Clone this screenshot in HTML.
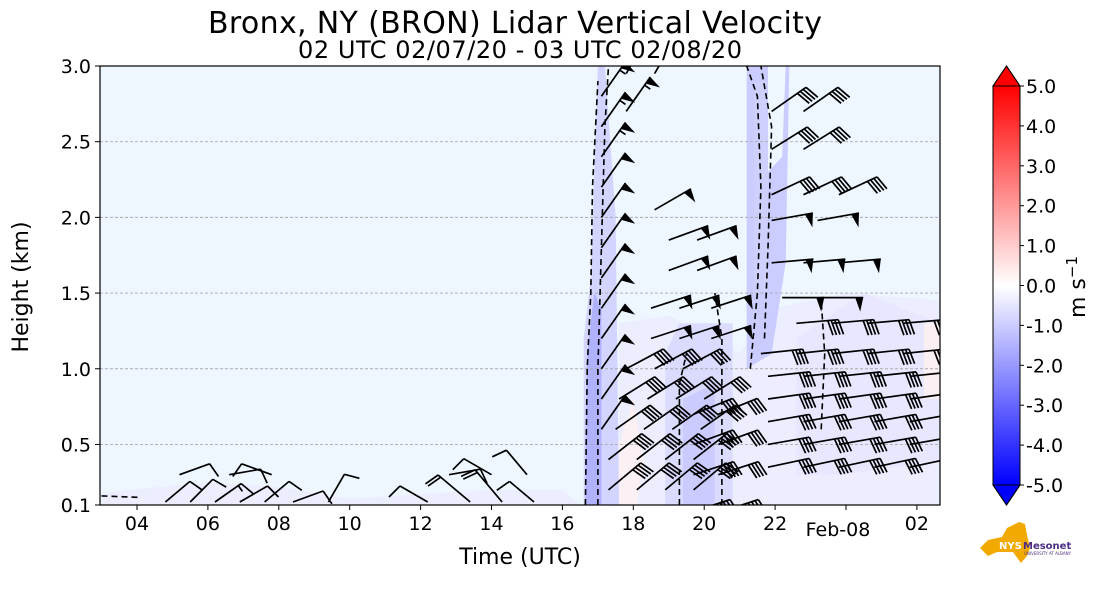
<!DOCTYPE html>
<html><head><meta charset="utf-8">
<style>
body{margin:0;background:#fff;}
svg{display:block;font-family:"DejaVu Sans","Liberation Sans",sans-serif;}
</style></head>
<body>
<svg id="chart" width="1101" height="600" viewBox="0 0 1101 600">
<defs>
<linearGradient id="bwr" x1="0" y1="1" x2="0" y2="0">
<stop offset="0" stop-color="#0000ff"/><stop offset="0.5" stop-color="#ffffff"/><stop offset="1" stop-color="#ff0000"/>
</linearGradient>
<clipPath id="plotclip"><rect x="100" y="66" width="840" height="439"/></clipPath>
</defs>
<text x="515" y="33" font-size="30" text-anchor="middle" textLength="614">Bronx, NY (BRON) Lidar Vertical Velocity</text>
<text x="520" y="58" font-size="24" text-anchor="middle" textLength="444">02 UTC 02/07/20 - 03 UTC 02/08/20</text>
<rect x="100" y="66" width="840" height="439" fill="#eef6ff"/>
<g id="patches" clip-path="url(#plotclip)"></g>
<g id="grid"></g>
<g id="contours" clip-path="url(#plotclip)"></g>
<g id="barbs" clip-path="url(#plotclip)"></g>
<rect x="100" y="66" width="840" height="439" fill="none" stroke="#000" stroke-width="1.2"/>
<g id="axes"></g>
<text x="520" y="564" font-size="22" text-anchor="middle">Time (UTC)</text>
<text x="28" y="287" font-size="22" text-anchor="middle" transform="rotate(-90 28 287)">Height (km)</text>
<g id="cbar">
<rect x="993" y="86" width="27" height="399" fill="url(#bwr)"/>
<polygon points="993,86 1006.5,66 1020,86" fill="#ff0000" stroke="#000" stroke-width="1"/>
<polygon points="993,485 1006.5,505 1020,485" fill="#0000ff" stroke="#000" stroke-width="1"/>
<polygon points="993,86 1006.5,66 1020,86 1020,485 1006.5,505 993,485" fill="none" stroke="#000" stroke-width="1"/>
</g>
<text x="1085" y="287" font-size="22" text-anchor="middle" transform="rotate(-90 1085 287)">m s<tspan dy="-8" font-size="15">−1</tspan></text>
<g>
<polygon points="980,548 988,540 1002,537 1007,528 1019,522 1025,524 1027,535 1030,548 1027,556 1021,563 1013,552 997,552 988,556" fill="#f2a900"/>
<text x="999" y="549" font-size="10" font-weight="bold" fill="#fff">NYS</text>
<text x="1023" y="549" font-size="10" font-weight="bold" fill="#4b2e83">Mesonet</text>
<text x="1024" y="555" font-size="4" fill="#4b2e83">UNIVERSITY AT ALBANY</text>
</g>
</svg>
<script>
// ---------- data ----------
var yTicks=[0.1,0.5,1.0,1.5,2.0,2.5,3.0];
var yTickLabels=["0.1","0.5","1.0","1.5","2.0","2.5","3.0"];
var gridLevels=[0.5,1.0,1.5,2.0,2.5];
var xTicks=[4,6,8,10,12,14,16,18,20,22,24,26];
var xTickLabels=["04","06","08","10","12","14","16","18","20","22","Feb-08","02"];
var cbarTicks=[5,4,3,2,1,0,-1,-2,-3,-4,-5];
var cbarLabels=["5.0","4.0","3.0","2.0","1.0","0.0","-1.0","-2.0","-3.0","-4.0","-5.0"];
// velocity patches: [t (hours from 00 UTC 02/07), km] vertices with velocity value
var patchVals=[-0.4,-0.4,-1.0,-1.7,-0.8,-1.1,-1.2,-0.5,-0.9,0.3,0.3];
var patchPolys=[
 [[3,0.1],[3,0.18],[6,0.25],[8,0.22],[10,0.14],[14,0.2],[16,0.2],[16.5,0.1]],
 [[17.6,0.1],[17.6,1.3],[19,1.35],[21,1.1],[22,1.4],[24,1.5],[26.65,1.45],[26.65,0.1]],
 [[16.6,0.1],[16.6,1.2],[16.8,1.6],[16.9,2.3],[17.0,3.0],[17.2,3.0],[17.5,2.0],[17.6,0.1]],
 [[16.65,0.1],[16.7,1.1],[16.9,1.5],[17.1,1.4],[17.1,0.1]],
 [[18.9,0.1],[18.9,1.1],[19.3,1.3],[20.8,1.3],[20.8,0.1]],
 [[19.4,0.1],[19.4,0.8],[20.3,0.9],[20.3,0.1]],
 [[21.2,1.0],[21.2,3.0],[21.8,3.0],[21.8,2.3],[22.2,2.4],[22.3,3.0],[22.4,3.0],[22.3,1.7],[21.9,1.1]],
 [[22.6,0.3],[22.6,1.2],[24.5,1.5],[26.65,1.3],[26.65,0.4],[24,0.3]],
 [[21.4,1.5],[21.4,2.9],[21.8,2.9],[21.8,1.5]],
 [[17.6,0.1],[17.6,0.5],[18,0.8],[18.3,0.4],[18.1,0.1]],
 [[26.2,0.8],[26.2,1.3],[26.65,1.3],[26.65,0.8]]
];
var contourLines=[
 [[16.65,0.1],[16.7,1.0],[16.8,1.5],[16.85,2.2],[17.0,2.9]],
 [[17.0,0.1],[17.0,1.0],[17.1,1.8],[17.2,2.6],[17.3,3.0]],
 [[19.3,0.1],[19.3,0.9],[19.5,1.1]],
 [[20.5,0.1],[20.5,1.2],[20.3,1.5]],
 [[21.3,1.0],[21.5,1.5],[21.6,2.2],[21.5,2.8],[21.2,3.0]],
 [[21.7,1.2],[21.8,1.8],[21.9,2.6],[21.6,3.0]],
 [[23.3,0.6],[23.4,1.1],[23.3,1.45]],
 [[3,0.16],[4.1,0.15]]
];
// wind barbs: time, height, staff angle (deg above +x), speed (kt)
var barbT=[],barbH=[],barbA=[],barbS=[];
function addRow(ts,h,a,s){for(var i=0;i<ts.length;i++){barbT.push(ts[i]);barbH.push(h);barbA.push(a);barbS.push(s);}}
var lowT=[4.8,5.5,6.2,6.9,7.6,8.4,9.4,12.2,13.4,14.3,15.2];
var lowA=[40,45,35,30,40,20,60,150,140,130,140];
var lowS=[10,10,15,10,10,10,10,10,20,20,10];
for(var i=0;i<lowT.length;i++){barbT.push(lowT[i]);barbH.push(0.12);barbA.push(lowA[i]);barbS.push(lowS[i]);}
var lowT2=[5.2,6.6,7.8,12.8,14.0,15.0];
var lowA2=[20,10,160,10,150,130];
for(var i=0;i<lowT2.length;i++){barbT.push(lowT2[i]);barbH.push(0.3);barbA.push(lowA2[i]);barbS.push(10);}
var colH=[0.6,0.8,1.0,1.2,1.4,1.6,1.8,2.0,2.2,2.4,2.6,2.8];
for(var i=0;i<colH.length;i++){barbT.push(17.1);barbH.push(colH[i]);barbA.push(55);barbS.push(i>8?55:50);}
addRow([17.8,18.6],2.95,60,55);addRow([17.8],2.7,55,55);
addRow([17.3,18.1,18.9,19.7],0.2,40,40);addRow([17.3,18.1,18.9,19.7],0.4,38,40);
addRow([17.5,18.3,19.1,19.9],0.6,35,40);addRow([17.6,18.4,19.2,20.0],0.8,32,40);
addRow([17.8,18.6,19.4],1.0,28,40);addRow([19.6,20.4],0.05,18,40);
addRow([19.7,20.4],0.3,18,40);addRow([19.7,20.4],0.5,20,40);addRow([19.7,20.4],0.7,22,40);
addRow([18.5,19.3,20.2],1.2,18,50);addRow([18.5,19.3,20.2],1.4,18,50);
addRow([19.0,19.8],1.65,20,50);addRow([19.0,19.8],1.85,20,50);addRow([18.6],2.05,30,50);
addRow([21.9,22.8],2.7,35,40);addRow([21.9,22.8],2.45,32,40);addRow([21.9,22.8,23.8],2.15,25,40);
addRow([21.9,23.2],1.98,10,50);addRow([21.9,22.8,23.8],1.7,5,50);addRow([22.2,23.3],1.47,0,50);
addRow([21.8,22.8,23.8,24.8,25.8],0.35,12,40);
addRow([21.8,22.8,23.8,24.8,25.8],0.5,10,40);
addRow([21.8,22.8,23.8,24.8,25.8],0.65,10,40);
addRow([21.8,22.8,23.8,24.8,25.8],0.8,8,40);
addRow([21.8,22.8,23.8,24.8,25.8],0.95,6,40);
addRow([21.6,22.6,23.6,24.6,25.6],1.1,6,40);
addRow([22.6,23.6,24.6,25.6],1.3,5,40);
// ---------- scales ----------
function X(t){return 137+(t-4)*35.45;}
function Y(h){return 505-(h-0.1)*(439/2.9);}
function CY(v){return 285.5-v*39.9;}
var NS="http://www.w3.org/2000/svg";
function mk(tag,attrs,parent){var e=document.createElementNS(NS,tag);for(var k in attrs)e.setAttribute(k,attrs[k]);parent.appendChild(e);return e;}
function velColor(v){var f=Math.min(1,Math.abs(v)/5);var c=Math.round(255*(1-f));
 return v<0?"rgb("+c+","+c+",255)":"rgb(255,"+c+","+c+")";}
// patches
var gp=document.getElementById("patches");
for(var i=0;i<patchPolys.length;i++){
 var pts=patchPolys[i].map(function(p){return X(p[0]).toFixed(1)+","+Y(p[1]).toFixed(1);}).join(" ");
 var el=mk("polygon",{points:pts,fill:velColor(patchVals[i]),opacity:0.8},gp);
 
 
}
// grid
var gg=document.getElementById("grid");
gridLevels.forEach(function(h){
 var el=mk("line",{x1:100,x2:940,y1:Y(h),y2:Y(h),stroke:"#aaa","stroke-width":0.9,"stroke-dasharray":"3,2"},gg);
 
 
});
// contours
var gc=document.getElementById("contours");
contourLines.forEach(function(l){
 var d=l.map(function(p,j){return (j?"L":"M")+X(p[0]).toFixed(1)+","+Y(p[1]).toFixed(1);}).join("");
 var el=mk("path",{d:d,fill:"none",stroke:"#000","stroke-width":1.6,"stroke-dasharray":"6,4"},gc);
 
 
});
// barbs
var gb=document.getElementById("barbs");
for(var i=0;i<barbT.length;i++){
 var x0=X(barbT[i]),y0=Y(barbH[i]),a=barbA[i]*Math.PI/180;
 var L=barbS[i]>=20?42:32;
 var ux=Math.cos(a),uy=-Math.sin(a);
 var px=uy,py=-ux;
 if(py<0){px=-px;py=-py;}
 var x1=x0+ux*L,y1=y0+uy*L;
 var g=mk("g",{},gb);
 
 
 var d="M"+x0.toFixed(1)+","+y0.toFixed(1)+"L"+x1.toFixed(1)+","+y1.toFixed(1);
 var s=barbS[i],pos=0,fl="";
 while(s>=50){var bx=x1-ux*pos,by=y1-uy*pos;
  fl+="M"+bx.toFixed(1)+","+by.toFixed(1)+"L"+(bx+px*14-ux*3).toFixed(1)+","+(by+py*14-uy*3).toFixed(1)+"L"+(bx-ux*8).toFixed(1)+","+(by-uy*8).toFixed(1)+"Z";
  pos+=10;s-=50;}
 while(s>=10){var bx=x1-ux*pos,by=y1-uy*pos;
  d+="M"+bx.toFixed(1)+","+by.toFixed(1)+"L"+(bx+px*15+ux*4).toFixed(1)+","+(by+py*15+uy*4).toFixed(1);
  pos+=3.5;s-=10;}
 if(s>=5){var bx=x1-ux*pos,by=y1-uy*pos;
  d+="M"+bx.toFixed(1)+","+by.toFixed(1)+"L"+(bx+px*7).toFixed(1)+","+(by+py*7).toFixed(1);}
 mk("path",{d:d,fill:"none",stroke:"#000","stroke-width":1.7},g);
 if(fl)mk("path",{d:fl,fill:"#000"},g);
}
// axes
var ga=document.getElementById("axes");
yTicks.forEach(function(h,i){
 var el=mk("line",{x1:95,x2:100,y1:Y(h),y2:Y(h),stroke:"#000"},ga);
 
 
 var t=mk("text",{x:91,y:Y(h)+7,"font-size":19,"text-anchor":"end"},ga);t.textContent=yTickLabels[i];
 
 
});
xTicks.forEach(function(tv,i){
 var el=mk("line",{x1:X(tv),x2:X(tv),y1:505,y2:510,stroke:"#000"},ga);
 
 
 var t=mk("text",{x:X(tv)+(i==10?-8:0),y:i==10?536:530,"font-size":19,"text-anchor":"middle"},ga);t.textContent=xTickLabels[i];
 
 
});
var gcb=document.getElementById("cbar");
cbarTicks.forEach(function(v,i){
 mk("line",{x1:1020,x2:1024,y1:CY(v),y2:CY(v),stroke:"#000"},gcb);
 var t=mk("text",{x:1026,y:CY(v)+7,"font-size":19},gcb);t.textContent=cbarLabels[i];
 
 
});
</script>
</body></html>
